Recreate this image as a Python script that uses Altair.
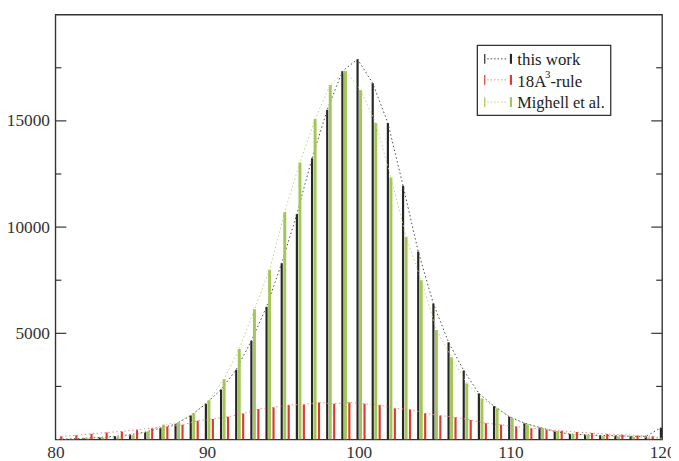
import altair as alt
import pandas as pd

# ---- data ----
x_vals = list(range(80, 121))

this_work = [0, 30, 60, 100, 150, 224, 350, 536, 722, 1126,
             1680, 2360, 3290, 4650, 6250, 8300, 10620, 13240, 15520, 17340,
             17900, 16770, 14900, 11950, 8850, 6400, 4575, 3250, 2170, 1575,
             1080, 770, 570, 380, 256, 224, 195, 180, 150, 150,
             550]

rule_18a3 = [149, 196, 270, 330, 382, 457, 536, 615, 690, 880,
             970, 1070, 1220, 1436, 1514, 1623, 1654, 1747, 1680, 1747,
             1680, 1623, 1468, 1420, 1235, 1126, 1048, 923, 769, 690,
             615, 536, 457, 410, 350, 303, 256, 224, 195, 149,
             0]

mighell = [0, 20, 50, 80, 120, 200, 382, 690, 815, 1235,
           1855, 2850, 4264, 6128, 7992, 10709, 13040, 15090, 16690, 17350,
           16458, 14900, 12340, 9540, 7500, 5160, 3876, 2633, 1934, 1468,
           1002, 722, 536, 382, 250, 200, 160, 140, 120, 100,
           0]

x_ticks = [80, 90, 100, 110, 120]
y_labels = [5000, 10000, 15000]
y_minor = [2500, 7500, 12500, 17500]

W, H = 614, 430
FONT = "Liberation Serif"

xscale = alt.Scale(domain=[80, 120], nice=False, zero=False)
yscale = alt.Scale(domain=[0, 20000], nice=False)

xaxis = alt.Axis(values=x_ticks, format="d", tickSize=0, domain=False,
                 grid=False, labelFont=FONT, labelFontSize=17.5,
                 labelColor="#333", labelPadding=4, labelFlush=False)
yaxis = alt.Axis(values=y_labels, format="d", tickSize=0, domain=False,
                 grid=False, labelFont=FONT, labelFontSize=17.5,
                 labelColor="#333", labelPadding=6)

series = [
    ("this work", this_work, -0.08, "#262626", 2.2, "#4a4a4a"),
    ("Mighell et al.", mighell, 0.12, "#a3c657", 3.0, "#b9d37f"),
    ("18A3-rule", rule_18a3, 0.38, "#db3b35", 2.2, "#ec8a86"),
]

layers = []
first = True
for name, vals, off, col, bw, lcol in series:
    df = pd.DataFrame({"x": x_vals, "v": vals})
    base = alt.Chart(df).transform_calculate(pos=f"datum.x + ({off})")
    if first:
        xenc = alt.X("pos:Q", scale=xscale, axis=xaxis, title=None)
        yenc = alt.Y("v:Q", scale=yscale, axis=yaxis, title=None)
        first = False
    else:
        xenc = alt.X("pos:Q", scale=xscale, title=None)
        yenc = alt.Y("v:Q", scale=yscale, title=None)
    bars = base.mark_rule(strokeWidth=bw, color=col, clip=True).encode(
        x=xenc, y=yenc, y2=alt.datum(0))
    line = base.mark_line(strokeWidth=1, color=lcol, strokeDash=[1.5, 2.5], clip=True).encode(
        x=alt.X("pos:Q", scale=xscale, title=None),
        y=alt.Y("v:Q", scale=yscale, title=None))
    layers += [bars, line]

# inward ticks on left and right frame
tick_major = pd.DataFrame({"t": y_labels})
tick_minor = pd.DataFrame({"t": y_minor})
for dfk, ln in [(tick_major, 11), (tick_minor, 6)]:
    for x0, x1 in [(0, ln), (W - ln, W)]:
        layers.append(alt.Chart(dfk).mark_rule(color="#333", strokeWidth=1.2).encode(
            y=alt.Y("t:Q", scale=yscale, title=None),
            x=alt.value(x0), x2=alt.value(x1)))

# legend (manual)
one = pd.DataFrame({"a": [0]})
layers.append(alt.Chart(one).mark_rect(fill="white", stroke="#333", strokeWidth=1.3).encode(
    x=alt.value(427), x2=alt.value(562), y=alt.value(31), y2=alt.value(102)))

rows = [(44.7, "#262626", "#4a4a4a"), (66.0, "#db3b35", "#ec8a86"), (88.5, "#a3c657", "#b9d37f")]
for yc, col, lcol in rows:
    layers.append(alt.Chart(one).mark_rule(color=col, strokeWidth=1.2).encode(
        x=alt.value(434.5), y=alt.value(yc - 5), y2=alt.value(yc + 5)))
    layers.append(alt.Chart(one).mark_rule(color=lcol, strokeWidth=1, strokeDash=[1.5, 2]).encode(
        x=alt.value(437), x2=alt.value(458), y=alt.value(yc)))
    layers.append(alt.Chart(one).mark_rule(color=col, strokeWidth=2.2).encode(
        x=alt.value(461), y=alt.value(yc - 5), y2=alt.value(yc + 5)))

def txt(s, x, y, size=17):
    return alt.Chart(pd.DataFrame({"t": [s]})).mark_text(
        align="left", baseline="middle", font=FONT, fontSize=size, color="#222").encode(
        x=alt.value(x), y=alt.value(y), text="t:N")

layers.append(txt("this work", 467.5, rows[0][0] + 1))
layers.append(txt("18A", 467.5, rows[1][0] + 2))
layers.append(txt("3", 495.5, rows[1][0] - 5, 11))
layers.append(txt("-rule", 501, rows[1][0] + 2))
layers.append(txt("Mighell et al.", 467.5, rows[2][0] + 1, 16.5))

chart = alt.layer(*layers).properties(
    width=W, height=H,
    padding={"left": 48, "top": 4, "right": 9, "bottom": 20},
    autosize="none",
    background="white",
).configure_view(stroke="#333", strokeWidth=1.4)

chart.save("out.html", embed_options={"renderer": "svg", "actions": False})
